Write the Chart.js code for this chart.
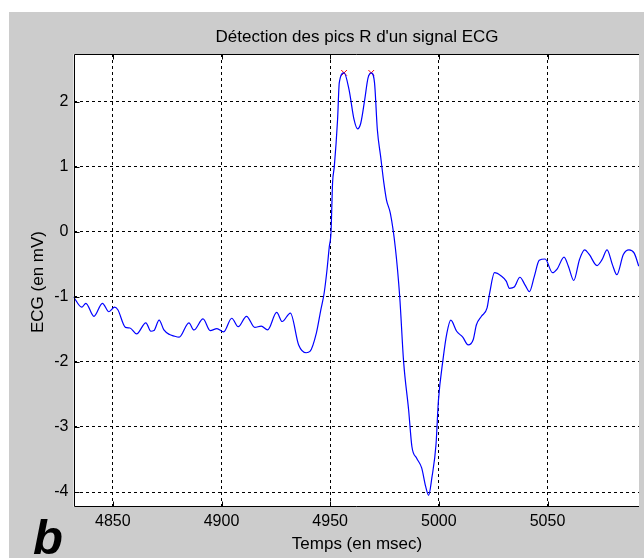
<!DOCTYPE html>
<html>
<head>
<meta charset="utf-8">
<script src="https://cdn.jsdelivr.net/npm/chart.js@4.4.0/dist/chart.umd.min.js"></script>
<style>
  html, body { margin: 0; padding: 0; background: #fff; overflow: hidden; }
  #wrap { position: relative; width: 644px; height: 559px; }
</style>
</head>
<body>
<div id="wrap"><canvas id="ecgChart" width="644" height="559"></canvas></div>
<script>
// ECG samples (time in msec, amplitude in mV)
const tempsMs = [
  4831.9, 4835.7, 4837.6, 4841.3, 4845.2, 4848.2, 4850.8, 4852.3, 4855.8, 4857.9,
  4860.9, 4865.2, 4867.5, 4868.9, 4871.3, 4873.5, 4876.1, 4877.9, 4880.5, 4885.0,
  4887.3, 4891.5, 4894.8, 4897.9, 4901.0, 4904.7, 4907.7, 4911.5, 4915.3, 4918.3,
  4921.2, 4925.4, 4927.9, 4931.7, 4935.5, 4939.0, 4940.7, 4943.7, 4945.7, 4947.2,
  4948.5, 4949.6, 4950.4, 4951.1, 4951.9, 4953.4, 4954.2, 4956.4, 4958.7, 4961.0,
  4962.6, 4964.1, 4965.9, 4967.4, 4968.9, 4970.4, 4971.7, 4973.2, 4974.7, 4975.9,
  4977.7, 4980.0, 4982.0, 4983.8, 4986.1, 4987.6, 4989.8, 4992.1, 4993.9, 4995.3,
  4996.8, 4998.7, 4999.8, 5001.9, 5003.7, 5005.5, 5008.2, 5011.0, 5013.5, 5015.8,
  5017.3, 5019.6, 5022.2, 5023.4, 5025.6, 5028.7, 5031.0, 5032.5, 5034.7, 5037.3,
  5039.7, 5041.7, 5043.9, 5046.2, 5048.9, 5052.3, 5054.5, 5057.6, 5059.6, 5062.1,
  5064.7, 5067.1, 5069.2, 5072.8, 5075.1, 5077.4, 5079.9, 5081.9, 5084.9, 5087.5,
  5089.9, 5092.0
];
const ecgMv = [
  -1.00, -1.16, -1.10, -1.30, -1.10, -1.23, -1.16, -1.20, -1.47, -1.48,
  -1.57, -1.40, -1.53, -1.52, -1.36, -1.51, -1.58, -1.60, -1.62, -1.40,
  -1.51, -1.34, -1.52, -1.49, -1.54, -1.33, -1.46, -1.30, -1.47, -1.45,
  -1.51, -1.24, -1.38, -1.25, -1.74, -1.86, -1.84, -1.55, -1.20, -0.95,
  -0.60, -0.23, 0.00, 0.75, 1.00, 1.72, 2.29, 2.44, 2.18, 1.72,
  1.58, 1.67, 2.03, 2.36, 2.44, 2.29, 1.57, 1.16, 0.75, 0.49,
  0.28, -0.25, -1.00, -2.00, -2.74, -3.30, -3.48, -3.63, -3.91, -4.05,
  -3.78, -3.27, -2.60, -1.97, -1.56, -1.36, -1.53, -1.62, -1.74, -1.66,
  -1.43, -1.30, -1.17, -0.94, -0.63, -0.68, -0.76, -0.87, -0.85, -0.70,
  -0.82, -0.92, -0.69, -0.44, -0.42, -0.63, -0.57, -0.39, -0.53, -0.75,
  -0.43, -0.28, -0.35, -0.52, -0.43, -0.28, -0.51, -0.66, -0.35, -0.28,
  -0.33, -0.53
];

// detected R peaks (red crosses)
const picsTemps = [4956.4, 4968.9];
const picsEcg = [2.44, 2.44];

// axis ticks
const xTicks = [4850, 4900, 4950, 5000, 5050];
const yTicks = [-4, -3, -2, -1, 0, 1, 2];

const titre = "Détection des pics R d'un signal ECG";
const titreX = 'Temps (en msec)';
const titreY = 'ECG (en mV)';
const lettre = 'b';

const police = '"Liberation Sans", Arial, Helvetica, sans-serif';
Chart.defaults.font.family = police;
Chart.defaults.color = '#000';

// gray figure, white axes, box, inner ticks and texts (Matlab look)
const matlabFigure = {
  id: 'matlabFigure',
  beforeDraw(chart) {
    const { ctx, chartArea: a } = chart;
    ctx.save();
    ctx.fillStyle = '#ffffff';
    ctx.fillRect(0, 0, chart.width, chart.height);
    ctx.fillStyle = '#cccccc';
    ctx.fillRect(9, 12, chart.width - 9, 546);
    ctx.fillStyle = '#ffffff';
    ctx.fillRect(a.left, a.top, a.right - a.left, a.bottom - a.top);
    ctx.restore();
  },
  afterDraw(chart) {
    const { ctx, chartArea: a, scales } = chart;
    const L = Math.round(a.left) + 0.5, T = Math.round(a.top) + 0.5, B = Math.round(a.bottom) - 0.5;
    ctx.save();
    ctx.strokeStyle = '#000';
    ctx.lineWidth = 1;
    ctx.beginPath();
    ctx.moveTo(a.right, T); ctx.lineTo(L, T); ctx.lineTo(L, B); ctx.lineTo(a.right, B);
    // inner tick marks
    xTicks.forEach(v => {
      const x = Math.round(scales.x.getPixelForValue(v)) + 0.5;
      ctx.moveTo(x, B); ctx.lineTo(x, B - 5);
      ctx.moveTo(x, T); ctx.lineTo(x, T + 5);
    });
    yTicks.forEach(v => {
      const y = Math.round(scales.y.getPixelForValue(v)) + 0.5;
      ctx.moveTo(L, y); ctx.lineTo(L + 5, y);
    });
    ctx.stroke();

    ctx.fillStyle = '#000';
    ctx.textAlign = 'center';
    ctx.textBaseline = 'alphabetic';
    ctx.font = '17px ' + police;
    const cx = 357;
    ctx.fillText(titre, cx, 42);
    ctx.fillText(titreX, cx, 549);
    ctx.save();
    ctx.translate(43, 282);
    ctx.rotate(-Math.PI / 2);
    ctx.fillText(titreY, 0, 0);
    ctx.restore();

    ctx.textAlign = 'left';
    ctx.font = 'italic bold 49px ' + police;
    ctx.fillText(lettre, 33, 554);
    ctx.restore();
  }
};

const ctx = document.getElementById('ecgChart').getContext('2d');
const ecgChart = new Chart(ctx, {
  type: 'line',
  data: {
    datasets: [{
      label: 'ECG',
      data: tempsMs.map((t, i) => ({ x: t, y: ecgMv[i] })),
      borderColor: '#0000ff',
      borderWidth: 1.2,
      pointRadius: 0,
      fill: false,
      cubicInterpolationMode: 'monotone'
    }, {
      label: 'Pics R',
      data: picsTemps.map((t, i) => ({ x: t, y: picsEcg[i] })),
      showLine: false,
      pointStyle: 'crossRot',
      pointRadius: 4,
      borderColor: '#ff0000',
      borderWidth: 1
    }]
  },
  options: {
    responsive: false,
    animation: false,
    devicePixelRatio: 1,
    layout: { padding: { left: 0, top: 54, right: 0, bottom: 0 } },
    plugins: {
      legend: { display: false },
      title: { display: false },
      tooltip: { enabled: false }
    },
    scales: {
      x: {
        type: 'linear',
        min: 4831.9,
        max: 5092.1,
        afterBuildTicks: s => { s.ticks = xTicks.map(v => ({ value: v })); },
        afterFit: s => { s.height = 52; },
        ticks: {
          padding: 5,
          maxRotation: 0,
          autoSkip: false,
          font: { size: 16 },
          color: '#000',
          callback: v => String(v)
        },
        grid: { color: '#000', lineWidth: 1, drawTicks: false },
        border: { display: false, dash: [3, 3] }
      },
      y: {
        type: 'linear',
        min: -4.23,
        max: 2.73,
        afterBuildTicks: s => { s.ticks = yTicks.map(v => ({ value: v })); },
        afterFit: s => { s.width = 73.5; },
        ticks: {
          padding: 5,
          font: { size: 16 },
          color: '#000',
          callback: v => String(v)
        },
        grid: { color: '#000', lineWidth: 1, drawTicks: false },
        border: { display: false, dash: [3, 3] }
      }
    }
  },
  plugins: [matlabFigure]
});
</script>
</body>
</html>
